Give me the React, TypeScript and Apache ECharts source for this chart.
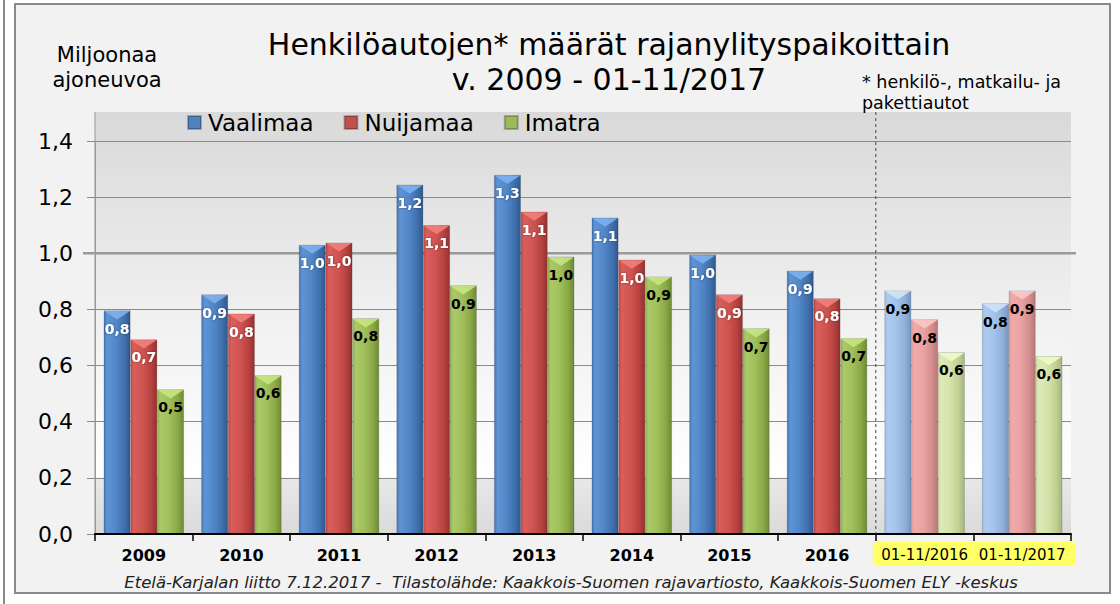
import React, { useEffect, useRef } from "react";
import * as echarts from "echarts";

const categories = ["2009", "2010", "2011", "2012", "2013", "2014", "2015", "2016", "01-11/2016", "01-11/2017"];
const seriesNames = ["Vaalimaa", "Nuijamaa", "Imatra"];
const vaalimaa = [0.796, 0.853, 1.03, 1.244, 1.279, 1.127, 0.995, 0.938, 0.867, 0.821];
const nuijamaa = [0.693, 0.785, 1.038, 1.1, 1.148, 0.977, 0.853, 0.839, 0.764, 0.867];
const imatra = [0.515, 0.565, 0.768, 0.885, 0.988, 0.917, 0.732, 0.697, 0.647, 0.633];
const paleCategories = ["01-11/2016", "01-11/2017"];
const yTicks = { min: 0, max: 1.4, interval: 0.2 };

const FONT = '"DejaVu Sans", Verdana, sans-serif';
const CAT_GAP = 0.178;

const hGrad = (stops: [number, string][]) =>
  new echarts.graphic.LinearGradient(0, 0, 1, 0, stops.map(([offset, color]) => ({ offset, color })));

const fullColors = [
  hGrad([[0, "#4677b6"], [0.12, "#5f93d4"], [0.45, "#5288c9"], [0.78, "#4070ad"], [1, "#30598d"]]),
  hGrad([[0, "#c24b48"], [0.12, "#da5e5b"], [0.45, "#cf5552"], [0.78, "#b7423f"], [1, "#933230"]]),
  hGrad([[0, "#94b450"], [0.12, "#abc968"], [0.45, "#a1c05b"], [0.78, "#8aa846"], [1, "#6e8a35"]]),
];
const paleColors = [
  hGrad([[0, "#9dbde6"], [0.12, "#aecbf0"], [0.45, "#a3c3eb"], [0.78, "#8fb0d8"], [1, "#7896bd"]]),
  hGrad([[0, "#e49c9c"], [0.12, "#f0aaaa"], [0.45, "#eaa2a2"], [0.78, "#d48e8e"], [1, "#b77878"]]),
  hGrad([[0, "#cfdfa4"], [0.12, "#dde9b7"], [0.45, "#d5e3ab"], [0.78, "#c0d094"], [1, "#a4b57c"]]),
];
const capFull = ["#7db0ee", "#f27f7c", "#c6e57f"];
const capPale = ["#cfe3fa", "#fac8c8", "#f1f8c9"];
const legendColors = ["#4f81bd", "#c0504d", "#9bbb59"];

const fmt = (v: number) => (Math.round(v * 10) / 10).toFixed(1).replace(".", ",");

export default function App() {
  const ref = useRef<HTMLDivElement>(null);

  useEffect(() => {
    if (!ref.current) return;
    const chart = echarts.init(ref.current, null, { renderer: "svg" });
    const allValues = [vaalimaa, nuijamaa, imatra];

    const barSeries = allValues.map((vals, s) => ({
      type: "bar",
      name: seriesNames[s],
      barGap: "0%",
      barCategoryGap: CAT_GAP * 100 + "%",
      z: 3,
      itemStyle: { color: fullColors[s], borderColor: "rgba(0,0,0,0.25)", borderWidth: 0.6 },
      label: {
        show: true,
        position: "insideTop",
        distance: 11,
        formatter: (p: any) => fmt(p.value),
        fontFamily: FONT,
        fontWeight: "bold",
        fontSize: 14,
        color: s === 2 ? "#000" : "#fff",
        textShadowColor: s === 2 ? "transparent" : "rgba(0,0,0,0.45)",
        textShadowBlur: s === 2 ? 0 : 2,
      },
      data: vals.map((v, i) =>
        paleCategories.includes(categories[i])
          ? { value: v, itemStyle: { color: paleColors[s] }, label: { color: "#000", textShadowBlur: 0, textShadowColor: "transparent" } }
          : v
      ),
    }));

    const capSeries = allValues.map((vals, s) => ({
      type: "custom",
      name: "cap" + s,
      silent: true,
      z: 4,
      encode: { x: 0, y: 1 },
      renderItem: (params: any, api: any) => {
        const idx = api.value(0);
        const v = api.value(1);
        const p = api.coord([idx, v]);
        const band = api.size([1, 0])[0];
        const bw = (band * (1 - CAT_GAP)) / 3;
        const cx = p[0] + (s - 1) * bw;
        const pale = paleCategories.includes(categories[idx]);
        return {
          type: "polygon",
          shape: { points: [[cx - bw / 2 + 0.5, p[1] + 0.5], [cx + bw / 2 - 0.5, p[1] + 0.5], [cx, p[1] + 9]] },
          style: { fill: pale ? capPale[s] : capFull[s], opacity: 0.9 },
        };
      },
      data: vals.map((v, i) => [i, v]),
    }));

    const option: any = {
      animation: false,
      backgroundColor: "#ffffff",
      textStyle: { fontFamily: FONT },
      title: {
        text: "Henkilöautojen* määrät rajanylityspaikoittain\nv. 2009 - 01-11/2017",
        left: 609,
        top: 27,
        textAlign: "center",
        padding: 0,
        textStyle: { fontFamily: FONT, fontSize: 30, fontWeight: "normal", color: "#000", lineHeight: 35 },
      },
      legend: {
        data: seriesNames.map((n, s) => ({ name: n, itemStyle: { color: legendColors[s] } })),
        left: 187,
        top: 111,
        padding: 0,
        itemWidth: 13,
        itemHeight: 13,
        itemGap: 30,
        icon: "rect",
        textStyle: { fontFamily: FONT, fontSize: 23, color: "#000", padding: [0, 0, 0, 2] },
      },
      grid: { left: 95, right: 49, top: 141, bottom: 70 },
      xAxis: {
        type: "category",
        data: categories,
        axisLine: { lineStyle: { color: "#000", width: 2 } },
        axisTick: { show: true, length: 7, lineStyle: { color: "#000", width: 1.5 } },
        axisLabel: {
          interval: 0,
          margin: 13,
          formatter: (v: string) => (paleCategories.includes(v) ? "{p|" + v + "}" : "{y|" + v + "}"),
          rich: {
            y: { fontFamily: FONT, fontSize: 16, fontWeight: "bold", color: "#000" },
            p: { fontFamily: FONT, fontSize: 15, color: "#000" },
          },
        },
        z: 5,
      },
      yAxis: {
        type: "value",
        min: yTicks.min,
        max: yTicks.max,
        interval: yTicks.interval,
        axisLine: { show: true, lineStyle: { color: "#999", width: 1 } },
        axisTick: { show: true, length: 8, lineStyle: { color: "#888" } },
        axisLabel: { formatter: (v: number) => v.toFixed(1).replace(".", ","), fontFamily: FONT, fontSize: 22, color: "#000", margin: 22 },
        splitLine: { show: true, lineStyle: { color: "#8a8a8a", width: 1 } },
      },
      series: [...barSeries, ...capSeries],
    };
    chart.setOption(option);

    const x7 = chart.convertToPixel({ xAxisIndex: 0 }, categories[7]) as number;
    const x8 = chart.convertToPixel({ xAxisIndex: 0 }, categories[8]) as number;
    const xFirst = chart.convertToPixel({ xAxisIndex: 0 }, categories[0]) as number;
    const xLast = chart.convertToPixel({ xAxisIndex: 0 }, categories[categories.length - 1]) as number;
    const band = x8 - x7;
    const plotLeft = xFirst - band / 2;
    const plotRight = xLast + band / 2;
    const y0 = chart.convertToPixel({ yAxisIndex: 0 }, 0) as number;
    const y1 = chart.convertToPixel({ yAxisIndex: 0 }, 1.0) as number;
    const plotTop = 112;
    const boundary = (x7 + x8) / 2;
    const h = y0 - plotTop;
    const y02 = chart.convertToPixel({ yAxisIndex: 0 }, 0.2) as number;
    const f = (y02 - plotTop) / h;

    chart.setOption({
      graphic: [
        { id: "outerline", type: "line", z: -30, shape: { x1: 4, y1: 0, x2: 4, y2: 604 }, style: { stroke: "#8a8a8a", lineWidth: 2 } },
        { id: "frame", type: "rect", z: -30, shape: { x: 15, y: 4, width: 1095, height: 589 }, style: { fill: "#f2f2f2", stroke: "#8a8a8a", lineWidth: 2 } },
        {
          id: "plotbg",
          type: "rect",
          z: -20,
          shape: { x: plotLeft, y: plotTop, width: plotRight - plotLeft, height: h },
          style: {
            fill: new echarts.graphic.LinearGradient(0, 0, 0, 1, [
              { offset: 0, color: "#d9d9d9" },
              { offset: 0.5, color: "#f1f1f1" },
              { offset: f - 0.002, color: "#ffffff" },
              { offset: f + 0.002, color: "#e8e8e8" },
              { offset: 1, color: "#dadada" },
            ]),
          },
        },
        { id: "plotleft", type: "line", z: -19, shape: { x1: plotLeft, y1: plotTop, x2: plotLeft, y2: y0 }, style: { stroke: "#999", lineWidth: 1 } },
        { id: "line10", type: "line", z: 2, shape: { x1: plotLeft - 12, y1: y1, x2: plotRight + 5, y2: y1 }, style: { stroke: "#9a9a9a", lineWidth: 2.5 } },
        { id: "dash", type: "line", z: 10, shape: { x1: boundary, y1: plotTop, x2: boundary, y2: y0 }, style: { stroke: "#444", lineWidth: 1, lineDash: [3, 3] } },
        { id: "yellow", type: "rect", z: -5, shape: { x: boundary - 3, y: 542, width: plotRight - boundary + 8, height: 24, r: 5 }, style: { fill: "#ffff66" } },
        {
          id: "ylabel",
          type: "text",
          x: 107,
          y: 42,
          style: { text: "Miljoonaa\najoneuvoa", fontFamily: FONT, fontSize: 21, lineHeight: 25, fill: "#000", align: "center" },
        },
        {
          id: "note",
          type: "text",
          x: 862,
          y: 71,
          style: { text: "* henkilö-, matkailu- ja\npakettiautot", fontFamily: FONT, fontSize: 17.5, lineHeight: 21, fill: "#000", align: "left" },
        },
        {
          id: "footer",
          type: "text",
          x: 571,
          y: 582,
          style: {
            text: "Etelä-Karjalan liitto 7.12.2017 -  Tilastolähde: Kaakkois-Suomen rajavartiosto, Kaakkois-Suomen ELY -keskus",
            fontFamily: FONT,
            fontSize: 16.5,
            fontStyle: "italic",
            fill: "#222",
            align: "center",
            verticalAlign: "middle",
          },
        },
      ],
    });

    return () => chart.dispose();
  }, []);

  return <div ref={ref} style={{ position: "fixed", left: 0, top: 0, width: 1120, height: 604 }} />;
}
